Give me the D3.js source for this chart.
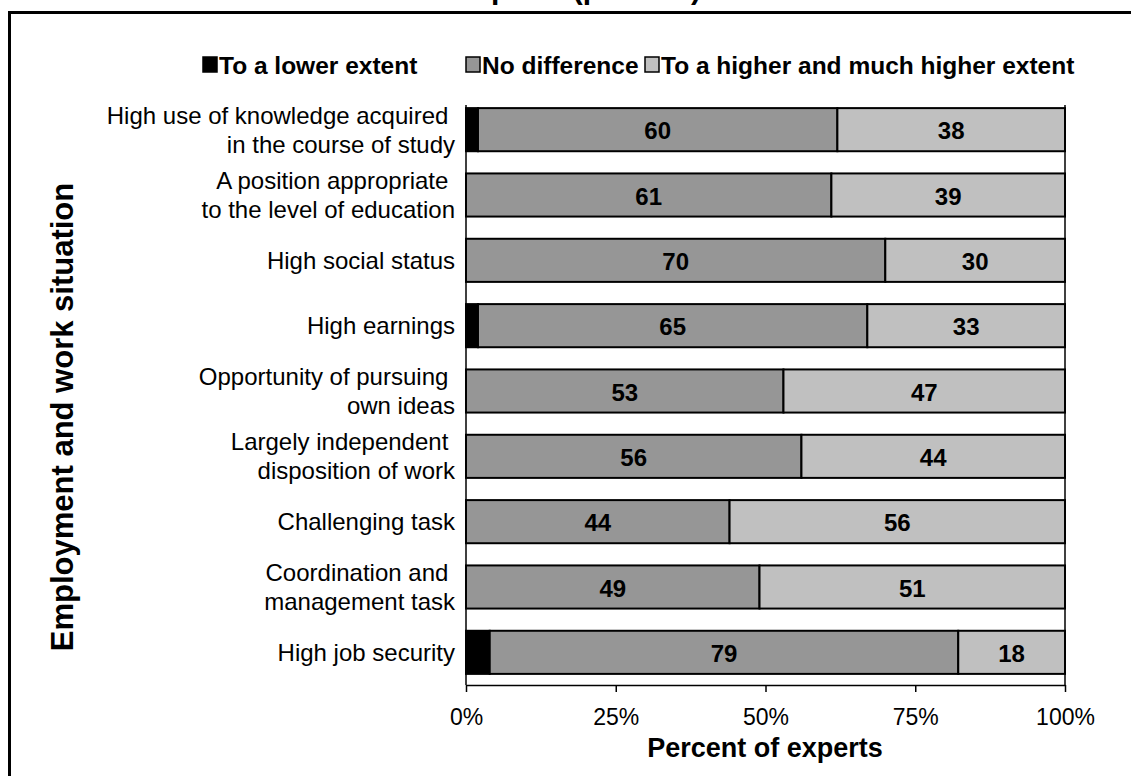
<!DOCTYPE html>
<html>
<head>
<meta charset="utf-8">
<script src="https://cdn.jsdelivr.net/npm/d3@7"></script>
<style>
  html, body { margin: 0; padding: 0; background: #fff; overflow: hidden; }
  svg { display: block; font-family: "Liberation Sans", Arial, sans-serif; }
</style>
</head>
<body>
<svg id="chart" width="1131" height="776"></svg>
<script>
// ---- data ----
const categories = [
  ["High use of knowledge acquired ", "in the course of study"],
  ["A position appropriate ", "to the level of education"],
  ["High social status"],
  ["High earnings"],
  ["Opportunity of pursuing ", "own ideas"],
  ["Largely independent ", "disposition of work"],
  ["Challenging task"],
  ["Coordination and ", "management task"],
  ["High job security"]
];
const lowerExtent  = [2, 0, 0, 2, 0, 0, 0, 0, 4];
const noDifference = [60, 61, 70, 65, 53, 56, 44, 49, 79];
const higherExtent = [38, 39, 30, 33, 47, 44, 56, 51, 18];
const seriesNames = ["To a lower extent", "No difference", "To a higher and much higher extent"];
const seriesColors = ["#000000", "#969696", "#c0c0c0"];
const tickValues = [0, 25, 50, 75, 100];
const titleText = "Assessment of experts (percent)";
const yTitle = "Employment and work situation";
const xTitle = "Percent of experts";

// ---- layout ----
const svg = d3.select("#chart");
const plotLeft = 466, plotRight = 1065, plotTop = 97, plotBottom = 685;

// frame
svg.append("rect").attr("x", 9.5).attr("y", 12.5).attr("width", 1200).attr("height", 900)
  .attr("fill", "none").attr("stroke", "#000").attr("stroke-width", 3);

// cut-off title (only its lowest part is visible, as in the reference)
svg.append("text").attr("x", 701).attr("y", -1).attr("text-anchor", "end")
  .attr("font-size", 30).attr("font-weight", "bold").text(titleText);

const x = d3.scaleLinear().domain([0, 100]).range([plotLeft, plotRight]);
const keys = categories.map((c, i) => i);
const y = d3.scaleBand().domain(keys).range([plotTop, plotBottom]).paddingInner(0.34).paddingOuter(0.17);

// stack (100% normalised)
const rows = keys.map(i => {
  const vals = [lowerExtent[i], noDifference[i], higherExtent[i]];
  const tot = d3.sum(vals);
  return { i, vals, tot };
});

const g = svg.append("g");
rows.forEach(r => {
  let acc = 0;
  r.vals.forEach((v, s) => {
    if (v <= 0) return;
    const x0 = acc / r.tot * 100, x1 = (acc + v) / r.tot * 100;
    acc += v;
    g.append("rect")
      .attr("x", x(x0)).attr("y", y(r.i))
      .attr("width", x(x1) - x(x0)).attr("height", y.bandwidth())
      .attr("fill", seriesColors[s]).attr("stroke", "#000").attr("stroke-width", 2);
    if (s > 0) {
      g.append("text")
        .attr("x", (x(x0) + x(x1)) / 2).attr("y", y(r.i) + y.bandwidth() / 2 + 1)
        .attr("text-anchor", "middle").attr("dominant-baseline", "central")
        .attr("font-size", 24).attr("font-weight", "bold").attr("fill", "#000")
        .text(v);
    }
  });
});

// axes lines
svg.append("line").attr("x1", plotLeft).attr("x2", plotLeft).attr("y1", 105).attr("y2", plotBottom)
  .attr("stroke", "#000").attr("stroke-width", 1.5);
svg.append("line").attr("x1", plotRight).attr("x2", plotRight).attr("y1", 105).attr("y2", plotBottom)
  .attr("stroke", "#000").attr("stroke-width", 1.5);

const xAxis = svg.append("g").attr("transform", `translate(0,${plotBottom})`)
  .call(d3.axisBottom(x).tickValues(tickValues).tickFormat(d => d + "%").tickSize(7).tickPadding(17).tickSizeOuter(0));
xAxis.select(".domain").attr("stroke", "#000").attr("stroke-width", 1.5);
xAxis.selectAll(".tick line").attr("stroke", "#000").attr("stroke-width", 1.5);
xAxis.selectAll(".tick text").attr("font-size", 23).attr("font-family", "Liberation Sans, Arial, sans-serif").attr("fill", "#000");

// category labels
const yAxis = svg.append("g").attr("transform", `translate(${plotLeft},0)`)
  .call(d3.axisLeft(y).tickSize(0).tickPadding(11));
yAxis.select(".domain").remove();
yAxis.selectAll(".tick text").each(function(d) {
  const t = d3.select(this);
  const lines = categories[d];
  t.text(null).attr("font-size", 24).attr("font-family", "Liberation Sans, Arial, sans-serif")
    .attr("fill", "#000").attr("dy", null).style("white-space", "pre");
  const lh = 29;
  lines.forEach((ln, k) => {
    t.append("tspan").attr("x", -11)
      .attr("y", (k - (lines.length - 1) / 2) * lh)
      .attr("dy", "0.35em").text(ln);
  });
});

// axis titles
svg.append("text").attr("x", 765).attr("y", 757).attr("text-anchor", "middle")
  .attr("font-size", 27).attr("font-weight", "bold").text(xTitle);
svg.append("text").attr("transform", "translate(73,417) rotate(-90)").attr("text-anchor", "middle")
  .attr("font-size", 31).attr("font-weight", "bold").text(yTitle);

// legend
const legendX = [203, 466, 645];
seriesNames.forEach((n, s) => {
  svg.append("rect").attr("x", legendX[s]).attr("y", 57).attr("width", 14).attr("height", 15)
    .attr("fill", seriesColors[s]).attr("stroke", "#000").attr("stroke-width", 1.5);
  svg.append("text").attr("x", legendX[s] + 16).attr("y", 65).attr("dominant-baseline", "central")
    .attr("font-size", 24.5).attr("font-weight", "bold").text(n);
});
</script>
</body>
</html>
